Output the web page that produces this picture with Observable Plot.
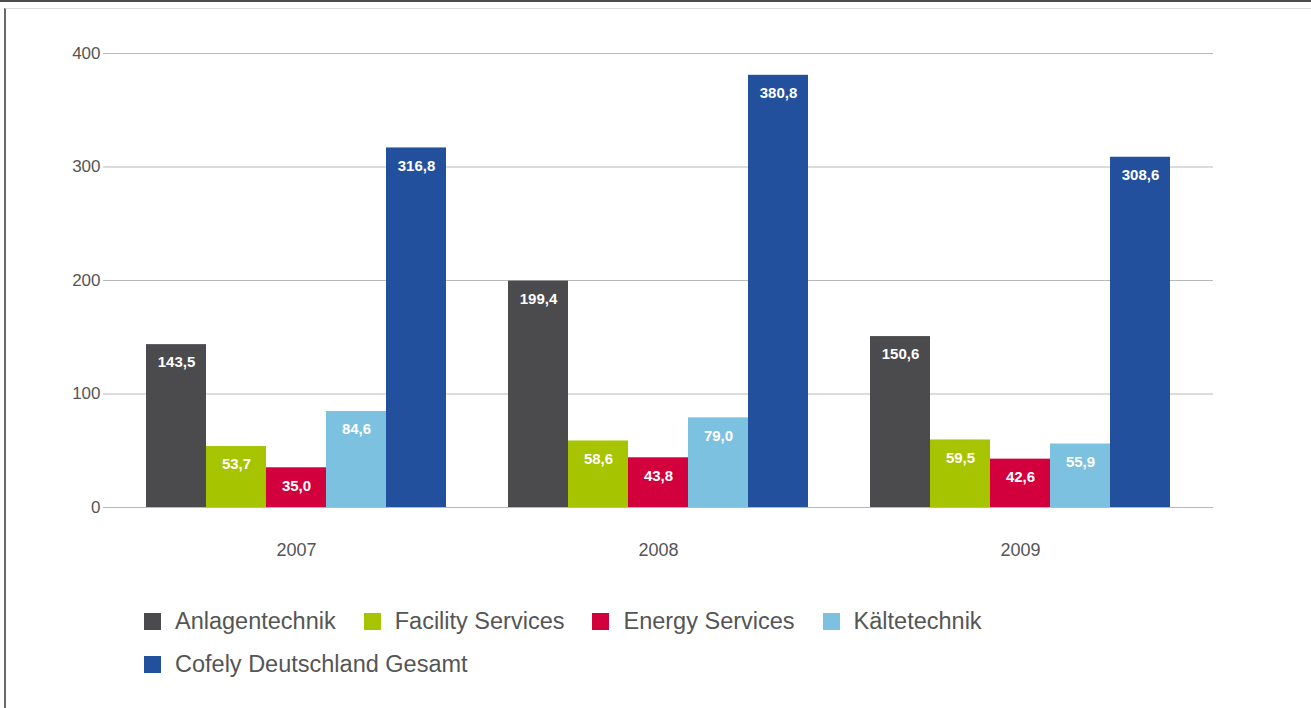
<!DOCTYPE html>
<html>
<head>
<meta charset="utf-8">
<script src="https://cdn.jsdelivr.net/npm/d3@7"></script>
<script src="https://cdn.jsdelivr.net/npm/@observablehq/plot@0.6"></script>
<style>
  html, body { margin: 0; padding: 0; background: #fff; }
  body { width: 1311px; height: 708px; position: relative; overflow: hidden; font-family: "Liberation Sans", Arial, Helvetica, sans-serif; }
  #topline { position: absolute; left: 0; top: 0; width: 1311px; height: 2px; background: #4d4d4d; }
  #frame { position: absolute; left: 4px; top: 8px; width: 1320px; height: 720px; border-top: 1px solid #dcdcdc; border-left: 2px solid #6a6a6a; }
  #chart { position: absolute; left: 0; top: 0; }
  #legend { position: absolute; left: 144px; top: 600px; width: 900px; display: flex; flex-wrap: wrap; font-size: 23.5px; color: #555; }
  .item { display: flex; align-items: center; height: 43px; margin-right: 28px; }
  .sw { width: 17px; height: 17px; margin-right: 14px; }
</style>
</head>
<body>
<div id="topline"></div>
<div id="frame"></div>
<div id="chart"></div>
<div id="legend"></div>
<script>
const years = ["2007", "2008", "2009"];
const series = ["Anlagentechnik", "Facility Services", "Energy Services", "Kältetechnik", "Cofely Deutschland Gesamt"];
const colors = ["#4b4b4d", "#a6c400", "#d2003c", "#7cc1e0", "#23509c"];
const values2007 = [143.5, 53.7, 35.0, 84.6, 316.8];
const values2008 = [199.4, 58.6, 43.8, 79.0, 380.8];
const values2009 = [150.6, 59.5, 42.6, 55.9, 308.6];
const yTicks = [0, 100, 200, 300, 400];

const byYear = {"2007": values2007, "2008": values2008, "2009": values2009};
const data = [];
for (const y of years) series.forEach((s, i) => data.push({year: y, series: s, value: byYear[y][i]}));

const fmt = v => v.toFixed(1).replace(".", ",");
const gridFor = yr => yTicks.map(v => ({year: yr, v}));
const gridStyle = {fx: "year", y: "v", stroke: "#b8b8b8", strokeWidth: 1};

const chart = Plot.plot({
  width: 1311,
  height: 580,
  marginLeft: 102,
  marginRight: 97,
  marginTop: 53,
  marginBottom: 73,
  style: {fontFamily: "'Liberation Sans', Arial, Helvetica, sans-serif", color: "#555", background: "transparent", fontSize: "17px"},
  fx: {domain: years, paddingInner: 0, paddingOuter: 0.032, label: null},
  x: {domain: series, paddingInner: 0, paddingOuter: 0.5, axis: null},
  y: {domain: [0, 400], label: null},
  color: {domain: series, range: colors},
  marks: [
    Plot.ruleY(gridFor("2007"), {...gridStyle, insetLeft: -12}),
    Plot.ruleY(gridFor("2008"), gridStyle),
    Plot.ruleY(gridFor("2009"), {...gridStyle, insetRight: -12}),
    Plot.barY(data, {fx: "year", x: "series", y: "value", fill: "series"}),
    Plot.text(data, {fx: "year", x: "series", y: "value", text: d => fmt(d.value), dy: 18, fill: "white", fontWeight: "bold", fontSize: 15}),
    Plot.axisY(yTicks, {tickSize: 0, tickPadding: 15, fontSize: 17, label: null, fill: "#555"}),
    Plot.axisFx({anchor: "bottom", tickSize: 0, tickPadding: 36, fontSize: 18, label: null, fill: "#555"})
  ]
});
document.getElementById("chart").appendChild(chart);

const legend = document.getElementById("legend");
series.forEach((s, i) => {
  const item = document.createElement("div");
  item.className = "item";
  const sw = document.createElement("div");
  sw.className = "sw";
  sw.style.background = colors[i];
  const t = document.createElement("span");
  t.textContent = s;
  item.appendChild(sw);
  item.appendChild(t);
  legend.appendChild(item);
});
</script>
</body>
</html>
